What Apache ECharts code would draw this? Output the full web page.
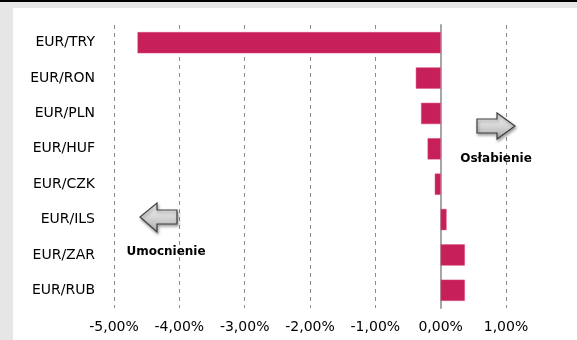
<!DOCTYPE html>
<html>
<head>
<meta charset="utf-8">
<script src="https://cdn.jsdelivr.net/npm/echarts@6/dist/echarts.min.js"></script>
<style>
  html, body { margin: 0; padding: 0; background: #fff; }
  #chart { width: 577px; height: 340px; }
</style>
</head>
<body>
<div id="chart"></div>
<script>
// pary walutowe, od góry
const categories = ['EUR/TRY', 'EUR/RON', 'EUR/PLN', 'EUR/HUF', 'EUR/CZK', 'EUR/ILS', 'EUR/ZAR', 'EUR/RUB']
// zmiana w %
const values = [-4.64, -0.38, -0.30, -0.20, -0.09, 0.09, 0.37, 0.37]
const xMin = -5
const xMax = 1
const xStep = 1

const chart = echarts.init(document.getElementById('chart'))

// strzałka jako wielokąt
function arrow(points) {
  return {
    type: 'polygon',
    shape: { points: points },
    style: {
      fill: new echarts.graphic.LinearGradient(0, 0, 0, 1, [
        { offset: 0, color: '#f4f4f4' },
        { offset: 0.5, color: '#d6d6d6' },
        { offset: 1, color: '#a9a9a9' }
      ]),
      stroke: '#404040',
      lineWidth: 1.2,
      shadowBlur: 3,
      shadowOffsetX: 1,
      shadowOffsetY: 2,
      shadowColor: 'rgba(0,0,0,0.35)'
    },
    z: 10
  }
}

chart.setOption({
  animation: false,
  backgroundColor: '#fff',
  grid: { left: 114, right: 71, top: 25, bottom: 32, containLabel: false },
  xAxis: {
    type: 'value',
    min: xMin,
    max: xMax,
    interval: xStep,
    axisLine: { show: false },
    axisTick: { show: false },
    axisLabel: {
      margin: 12,
      color: '#000',
      fontFamily: 'DejaVu Sans',
      fontSize: 14,
      formatter: v => v.toFixed(2).replace('.', ',') + '%'
    },
    splitLine: { lineStyle: { type: [4, 4], color: '#8c8c8c', width: 1 } }
  },
  yAxis: {
    type: 'category',
    inverse: true,
    data: categories,
    axisLine: { show: true, onZero: true, lineStyle: { color: '#a6a6a6', width: 2 } },
    axisTick: { show: false },
    axisLabel: {
      margin: 19,
      color: '#000',
      fontFamily: 'DejaVu Sans',
      fontSize: 14
    }
  },
  series: [{
    type: 'bar',
    data: values,
    barCategoryGap: '40%',
    itemStyle: { color: '#c71f5a', borderColor: '#d9477d', borderWidth: 0.5 }
  }],
  graphic: [
    { type: 'rect', shape: { x: 0, y: 0, width: 577, height: 2 }, style: { fill: '#000' }, z: 20 },
    { type: 'rect', shape: { x: 0, y: 2, width: 577, height: 6 }, style: { fill: '#e6e6e6' }, z: 20 },
    { type: 'rect', shape: { x: 0, y: 8, width: 13, height: 332 }, style: { fill: '#e6e6e6' }, z: 20 },
    arrow([[477, 119], [497, 119], [497, 113], [515, 126], [497, 139], [497, 133], [477, 133]]),
    arrow([[177, 210], [157, 210], [157, 203], [140, 217], [157, 232], [157, 224], [177, 224]]),
    {
      type: 'text', x: 496, y: 159,
      style: { text: 'Osłabienie', font: 'bold 12px "DejaVu Sans"', fill: '#000', align: 'center', verticalAlign: 'middle' },
      z: 10
    },
    {
      type: 'text', x: 166, y: 252,
      style: { text: 'Umocnienie', font: 'bold 12px "DejaVu Sans"', fill: '#000', align: 'center', verticalAlign: 'middle' },
      z: 10
    }
  ]
})
</script>
</body>
</html>
